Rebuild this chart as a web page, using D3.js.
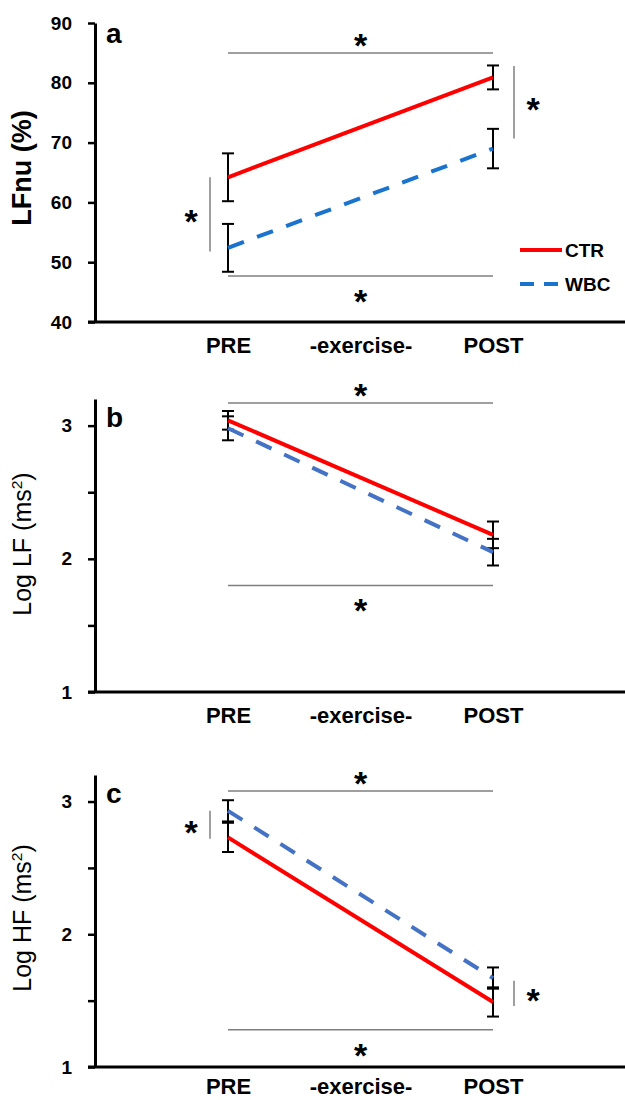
<!DOCTYPE html>
<html>
<head>
<meta charset="utf-8">
<script src="https://cdn.jsdelivr.net/npm/d3@7"></script>
<style>
  body { margin: 0; background: #fff; }
  svg { display: block; }
</style>
</head>
<body>
<script>
// categories on the x axis (data only at PRE and POST)
const xLabels = ['PRE', '-exercise-', 'POST'];
const timePoints = ['PRE', 'POST'];

// panel a: LFnu (%)
const lfnuTicks = [40, 50, 60, 70, 80, 90];
const ctrLfnu = [64.2, 80.9];
const ctrLfnuErr = [4.0, 2.0];
const wbcLfnu = [52.4, 69.0];
const wbcLfnuErr = [4.0, 3.3];
const lfnuSigH = [85, 47.7];                    // top / bottom bracket
const lfnuSigV = [[64.2, 51.8], [82.8, 70.7]];  // PRE / POST bracket

// panel b: Log LF
const logTicks = [1, 1.5, 2, 2.5, 3];
const ctrLogLF = [3.04, 2.18];
const ctrLogLFErr = [0.07, 0.10];
const wbcLogLF = [2.98, 2.05];
const wbcLogLFErr = [0.09, 0.10];
const lfSigH = [3.17, 1.80];
const lfSigV = [];

// panel c: Log HF
const ctrLogHF = [2.73, 1.49];
const ctrLogHFErr = [0.11, 0.11];
const wbcLogHF = [2.93, 1.67];
const wbcLogHFErr = [0.08, 0.08];
const hfSigH = [3.08, 1.28];
const hfSigV = [[2.93, 2.72], [1.65, 1.46]];

const FONT = '"Liberation Sans", Arial, sans-serif';
const RED = '#ff0000';

const svg = d3.select('body').append('svg')
    .attr('width', 625)
    .attr('height', 1100);

const x = d3.scalePoint().domain(xLabels).range([228, 493]);
const axisX = 95;

const panels = [
    {
        letter: 'a', label: 'LFnu (%)', sup: null, labelBold: true, labelSize: 27, labelY: 168,
        top: 23, bottom: 322, domain: [40, 90], ticks: lfnuTicks, xLabelGap: 31,
        ctr: ctrLfnu, ctrErr: ctrLfnuErr, wbc: wbcLfnu, wbcErr: wbcLfnuErr,
        blue: '#1a73cc', sigH: lfnuSigH, sigV: lfnuSigV, legend: true, letterY: 43
    },
    {
        letter: 'b', label: 'Log LF (ms', sup: '2', labelBold: false, labelSize: 25, labelY: 544,
        top: 399, bottom: 692, domain: [1, 3.2], ticks: logTicks, xLabelGap: 31,
        ctr: ctrLogLF, ctrErr: ctrLogLFErr, wbc: wbcLogLF, wbcErr: wbcLogLFErr,
        blue: '#4472c4', sigH: lfSigH, sigV: lfSigV, legend: false, letterY: 427
    },
    {
        letter: 'c', label: 'Log HF (ms', sup: '2', labelBold: false, labelSize: 25, labelY: 918,
        top: 775, bottom: 1067, domain: [1, 3.2], ticks: logTicks, xLabelGap: 27,
        ctr: ctrLogHF, ctrErr: ctrLogHFErr, wbc: wbcLogHF, wbcErr: wbcLogHFErr,
        blue: '#4472c4', sigH: hfSigH, sigV: hfSigV, legend: false, letterY: 803
    }
];

function asterisk(g, cx, cy) {
    const size = 34;
    g.append('text')
        .attr('x', cx)
        .attr('y', cy + size * 0.56)
        .attr('text-anchor', 'middle')
        .attr('font-family', FONT)
        .attr('font-size', size)
        .attr('font-weight', 'bold')
        .attr('fill', '#000')
        .text('*');
}

function drawPanel(p) {
    const y = d3.scaleLinear().domain(p.domain).range([p.bottom, p.top]);
    const g = svg.append('g');

    // y axis
    const yAxis = d3.axisLeft(y)
        .tickValues(p.ticks)
        .tickSize(7)
        .tickSizeOuter(0)
        .tickPadding(16)
        .tickFormat(d => Number.isInteger(d) ? d : '');

    g.append('g')
        .attr('transform', `translate(${axisX},0)`)
        .call(yAxis)
        .call(a => a.select('.domain').attr('stroke', '#000').attr('stroke-width', 3))
        .call(a => a.selectAll('.tick line').attr('stroke', '#000').attr('stroke-width', 2.5))
        .call(a => a.selectAll('.tick text')
            .attr('font-family', FONT)
            .attr('font-size', 19)
            .attr('font-weight', 'bold')
            .attr('fill', '#000'));

    // x axis
    const xAxis = d3.axisBottom(x).tickSize(0);
    g.append('g')
        .attr('transform', `translate(0,${p.bottom})`)
        .call(xAxis)
        .call(a => a.select('.domain')
            .attr('d', `M${axisX - 7},0H625`)
            .attr('stroke', '#000')
            .attr('stroke-width', 3))
        .call(a => a.selectAll('.tick text')
            .attr('y', p.xLabelGap)
            .attr('dy', null)
            .attr('font-family', FONT)
            .attr('font-size', 22)
            .attr('font-weight', 'bold')
            .attr('fill', '#000'));

    // y label
    const lab = g.append('text')
        .attr('transform', `translate(31,${p.labelY}) rotate(-90)`)
        .attr('text-anchor', 'middle')
        .attr('font-family', FONT)
        .attr('font-size', p.labelSize)
        .attr('font-weight', p.labelBold ? 'bold' : 'normal')
        .attr('fill', '#000');
    lab.append('tspan').text(p.label);
    if (p.sup) {
        lab.append('tspan')
            .attr('font-size', p.labelSize * 0.62)
            .attr('dy', -p.labelSize * 0.38)
            .text(p.sup);
        lab.append('tspan')
            .attr('dy', p.labelSize * 0.38)
            .text(')');
    }

    // panel letter
    g.append('text')
        .attr('x', 106)
        .attr('y', p.letterY)
        .attr('font-family', FONT)
        .attr('font-size', 28)
        .attr('font-weight', 'bold')
        .attr('fill', '#000')
        .text(p.letter);

    // significance brackets (horizontal)
    const [sigTop, sigBottom] = p.sigH;
    const xMid = x('-exercise-');
    [sigTop, sigBottom].forEach((v, i) => {
        g.append('line')
            .attr('x1', x('PRE'))
            .attr('x2', x('POST'))
            .attr('y1', y(v))
            .attr('y2', y(v))
            .attr('stroke', '#7f7f7f')
            .attr('stroke-width', 1.5);
        asterisk(g, xMid, i === 0 ? y(v) - 15 : y(v) + 18);
    });

    // significance brackets (vertical, between groups)
    p.sigV.forEach((pair, i) => {
        const vx = i === 0 ? x('PRE') - 18 : x('POST') + 21;
        g.append('line')
            .attr('x1', vx)
            .attr('x2', vx)
            .attr('y1', y(pair[0]))
            .attr('y2', y(pair[1]))
            .attr('stroke', '#7f7f7f')
            .attr('stroke-width', 1.5);
        asterisk(g, i === 0 ? vx - 19 : vx + 19, (y(pair[0]) + y(pair[1])) / 2);
    });

    // error bars
    const series = [
        { values: p.ctr, err: p.ctrErr },
        { values: p.wbc, err: p.wbcErr }
    ];
    series.forEach(s => {
        timePoints.forEach((t, i) => {
            const cx = x(t);
            const lo = y(s.values[i] - s.err[i]);
            const hi = y(s.values[i] + s.err[i]);
            g.append('line')
                .attr('x1', cx).attr('x2', cx)
                .attr('y1', lo).attr('y2', hi)
                .attr('stroke', '#000').attr('stroke-width', 2);
            [lo, hi].forEach(cy => {
                g.append('line')
                    .attr('x1', cx - 6).attr('x2', cx + 6)
                    .attr('y1', cy).attr('y2', cy)
                    .attr('stroke', '#000').attr('stroke-width', 2);
            });
        });
    });

    // lines
    const line = d3.line()
        .x((d, i) => x(timePoints[i]))
        .y(d => y(d));

    g.append('path')
        .datum(p.wbc)
        .attr('d', line)
        .attr('fill', 'none')
        .attr('stroke', p.blue)
        .attr('stroke-width', 4)
        .attr('stroke-dasharray', '17,14');

    g.append('path')
        .datum(p.ctr)
        .attr('d', line)
        .attr('fill', 'none')
        .attr('stroke', RED)
        .attr('stroke-width', 4);

    // legend
    if (p.legend) {
        const legendItems = [
            { name: 'CTR', color: RED, dash: null, y: 250 },
            { name: 'WBC', color: p.blue, dash: '14,10', y: 284 }
        ];
        legendItems.forEach(d => {
            g.append('line')
                .attr('x1', 520).attr('x2', 562)
                .attr('y1', d.y).attr('y2', d.y)
                .attr('stroke', d.color)
                .attr('stroke-width', 4)
                .attr('stroke-dasharray', d.dash);
            g.append('text')
                .attr('x', 565)
                .attr('y', d.y + 7)
                .attr('font-family', FONT)
                .attr('font-size', 19)
                .attr('font-weight', 'bold')
                .attr('fill', '#000')
                .text(d.name);
        });
    }
}

panels.forEach(drawPanel);
</script>
</body>
</html>
